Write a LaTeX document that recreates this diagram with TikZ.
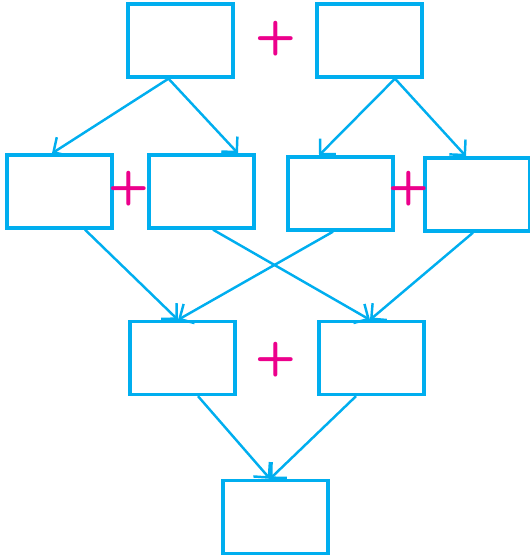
\documentclass[tikz,border=0pt]{standalone}
\usepackage{tikz}
\usetikzlibrary{
    arrows.meta,
    calc
}
\definecolor{boxcyan}{RGB}{0,174,239}
\definecolor{plusmagenta}{RGB}{236,0,140}

\begin{document}
\begin{tikzpicture}[x=0.02cm,y=-0.02cm,
    cell/.style={draw=boxcyan, line width=1.9pt, rectangle,
        minimum width=2.1cm, minimum height=1.46cm, inner sep=0pt},
    link/.style={draw=boxcyan, line width=1.4pt,
        -{Straight Barb[length=2.2mm,width=4.4mm]}},
    plus/.style={text=plusmagenta, font=\sffamily\bfseries\fontsize{27}{27}\selectfont, inner sep=0pt}
]
\useasboundingbox (0,0) rectangle (530,555);

% Top pair
\node[cell] (topL) at (180.5,40.5) {};
\node[cell] (topR) at (369.5,40.5) {};
\node[plus] (plusTop) at (276,39) {+};

% Second row
\node[cell] (midA) at (59.5,191.5) {};
\node[cell] (midB) at (201.5,191.5) {};
\node[cell] (midC) at (340.5,193.5) {};
\node[cell] (midD) at (477.5,194.5) {};
\node[plus] (plusMidL) at (129,189) {+};
\node[plus] (plusMidR) at (409,189) {+};

% Third row
\node[cell] (lowL) at (182.5,358) {};
\node[cell] (lowR) at (371.5,358) {};
\node[plus] (plusLow) at (276,360) {+};

% Bottom
\node[cell] (last) at (275.5,517) {};

% Arrows, top to second row
\draw[link] ([xshift=-0.24cm]topL.south) -- ([xshift=-0.15cm]midA.north);
\draw[link] ([xshift=-0.24cm]topL.south) -- ([xshift=0.73cm]midB.north);
\draw[link] ([xshift=0.51cm]topR.south) -- ([xshift=-0.43cm]midC.north);
\draw[link] ([xshift=0.51cm]topR.south) -- ([xshift=-0.23cm]midD.north);

% Arrows, second to third row
\draw[link] ([xshift=0.51cm]midA.south) -- ([xshift=-0.09cm]lowL.north);
\draw[link] ([xshift=-0.15cm]midC.south) -- ([xshift=-0.09cm]lowL.north);
\draw[link] ([xshift=0.23cm]midB.south) -- ([xshift=-0.03cm]lowR.north);
\draw[link] ([xshift=-0.09cm]midD.south) -- ([xshift=-0.03cm]lowR.north);

% Arrows, third row to bottom
\draw[link] ([xshift=0.31cm]lowL.south) -- ([xshift=-0.11cm]last.north);
\draw[link] ([xshift=-0.31cm]lowR.south) -- ([xshift=-0.11cm]last.north);

\end{tikzpicture}
\end{document}
